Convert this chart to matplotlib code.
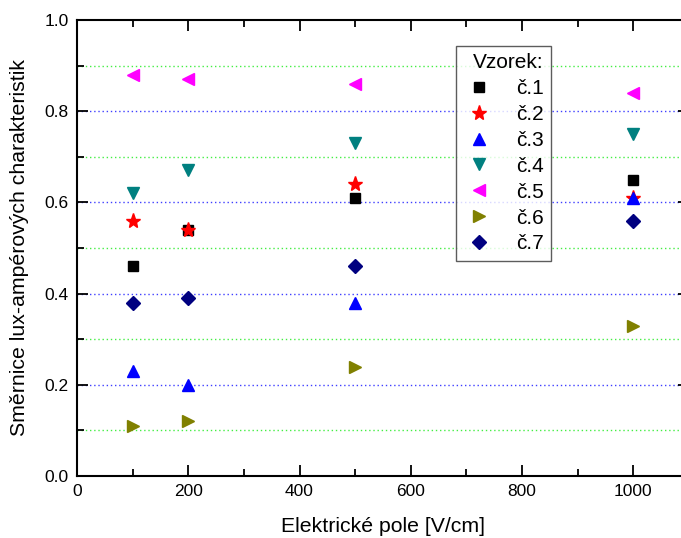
import matplotlib
matplotlib.use("Agg")
import matplotlib.pyplot as plt
from matplotlib.ticker import MultipleLocator

plt.rcParams['font.family'] = ['Liberation Sans', 'DejaVu Sans']

# data
pole = [100, 200, 500, 1000]
labels = ['č.1', 'č.2', 'č.3', 'č.4', 'č.5', 'č.6', 'č.7']
s1 = [0.46, 0.54, 0.61, 0.65]
s2 = [0.56, 0.54, 0.64, 0.61]
s3 = [0.23, 0.20, 0.38, 0.61]
s4 = [0.62, 0.67, 0.73, 0.75]
s5 = [0.88, 0.87, 0.86, 0.84]
s6 = [0.11, 0.12, 0.24, 0.33]
s7 = [0.38, 0.39, 0.46, 0.56]

series = [s1, s2, s3, s4, s5, s6, s7]
markers = ['s', '*', '^', 'v', '<', '>', 'D']
colors = ['black', 'red', 'blue', '#008080', '#ff00ff', '#808000', '#000080']
sizes = [7, 11, 9, 9, 9, 9, 7.5]

fig = plt.figure(figsize=(6.81, 5.38), dpi=100)
W, H = 681.0, 538.0
x0, x1 = 77, 77 + 556.3 * 1.1
y0, y1 = 476, 20
ax = fig.add_axes([x0 / W, 1 - y0 / H, (x1 - x0) / W, (y0 - y1) / H])

#%% gridlines
for y in [0.2, 0.4, 0.6, 0.8]:
    ax.axhline(y, color='#4040ff', lw=1, ls=(0, (1, 2)), zorder=0)
for y in [0.1, 0.3, 0.5, 0.7, 0.9]:
    ax.axhline(y, color='#44ee44', lw=1, ls=(0, (1, 2)), zorder=0)

for s, lab, m, c, ms in zip(series, labels, markers, colors, sizes):
    ax.plot(pole, s, ls='none', marker=m, color=c, ms=ms, label=lab)

ax.set_xlim(0, 1100)
ax.set_ylim(0, 1.0)
ax.xaxis.set_major_locator(MultipleLocator(200))
ax.xaxis.set_minor_locator(MultipleLocator(100))
ax.yaxis.set_major_locator(MultipleLocator(0.2))
ax.yaxis.set_minor_locator(MultipleLocator(0.1))
ax.yaxis.set_major_formatter(plt.FormatStrFormatter('%.1f'))
ax.tick_params(which='both', direction='in', top=True, right=True, labelsize=12.5, width=1.3)
ax.tick_params(which='major', length=8, pad=6)
ax.tick_params(which='minor', length=5)
for sp in ax.spines.values():
    sp.set_linewidth(1.5)

ax.set_xlabel('Elektrické pole [V/cm]', fontsize=15.3, labelpad=13)
ax.set_ylabel('Směrnice lux-ampérových charakteristik', fontsize=15.3, labelpad=11)

leg = ax.legend(title='Vzorek:', loc='upper left', bbox_to_anchor=(0.62, 0.943),
                fontsize=15, title_fontsize=15, frameon=True, fancybox=False,
                edgecolor='#333333', handletextpad=1.0, labelspacing=0.33,
                borderpad=0.35, handlelength=1.5, borderaxespad=0)
leg.get_frame().set_linewidth(1)
leg._legend_box.align = 'right'

fig.savefig('out.png', dpi=100)
